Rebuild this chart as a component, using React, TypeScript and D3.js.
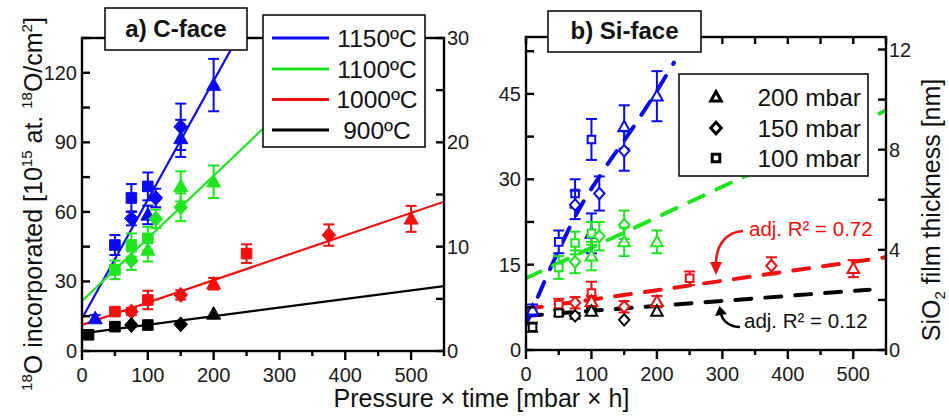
import React from 'react';
import * as d3 from 'd3';

const FONT = '"Liberation Sans", Arial, Helvetica, sans-serif';

type M = 'sq' | 'dia' | 'tri';
type Pt = [number, number, number, M]; // pressure×time, value, error, marker

const temperatures = ['1150ºC', '1100ºC', '1000ºC', '900ºC'];
const tempColors = ['#0a0af2', '#1ee61e', '#f01010', '#000000'];
const pressureLabels = ['200 mbar', '150 mbar', '100 mbar'];
const pressureMarkers: M[] = ['tri', 'dia', 'sq'];

const xTickLabels = [0, 100, 200, 300, 400, 500];
const xMinorTicks = [50, 150, 250, 350, 450, 550];
const cLeftTicks = [0, 30, 60, 90, 120];
const cLeftMinor = [15, 45, 75, 105, 135];
const cRightTicks = [0, 10, 20, 30];
const cRightMinor = [5, 15, 25];
const siLeftTicks = [0, 15, 30, 45];
const siLeftMinor = [7.5, 22.5, 37.5, 52.5];
const siRightTicks = [0, 4, 8, 12];
const siRightMinor = [2, 6, 10];

// a) C-face, 18O incorporated
const c1150: Pt[] = [
  [20, 14, 1.5, 'tri'], [50, 45.7, 4.3, 'sq'], [75, 66, 6, 'sq'], [75, 57.2, 3, 'dia'],
  [100, 71, 6, 'sq'], [100, 58.7, 4, 'tri'], [112, 66, 4, 'dia'], [150, 96.7, 10, 'dia'],
  [150, 91.7, 8, 'tri'], [200, 114.7, 11.3, 'tri'],
];
const c1100: Pt[] = [
  [50, 35, 4, 'sq'], [75, 45.7, 5, 'sq'], [75, 39, 4, 'dia'], [100, 48.6, 5, 'sq'],
  [100, 43.6, 5, 'tri'], [112, 57, 4, 'dia'], [150, 71, 6.5, 'tri'], [150, 62, 6, 'dia'],
  [200, 73, 7, 'tri'],
];
const c1000: Pt[] = [
  [50, 17, 1.5, 'sq'], [75, 17, 1.5, 'dia'], [100, 22, 4, 'sq'], [150, 24.2, 2, 'dia'],
  [200, 29, 2.5, 'tri'], [250, 42, 4, 'sq'], [375, 50, 4.6, 'dia'], [500, 57, 5.6, 'tri'],
];
const c900: Pt[] = [
  [10, 7, 0, 'sq'], [50, 10.5, 0, 'sq'], [75, 11.2, 0, 'dia'], [100, 11.2, 0, 'sq'],
  [150, 11.5, 0, 'dia'], [200, 16, 0, 'tri'],
];
const cFit1150: [number, number][] = [[0, 14], [236, 135]];
const cFit1100: [number, number][] = [[0, 21.6], [420, 135]];
const cFit1000: [number, number][] = [[0, 11.2], [550, 64.4]];
const cFit900: [number, number][] = [[0, 7.6], [550, 28]];

// b) Si-face
const s1150: Pt[] = [
  [10, 7, 1, 'tri'], [50, 19, 2, 'sq'], [75, 27.5, 2.5, 'sq'], [75, 25.5, 2.5, 'dia'],
  [100, 37, 3.6, 'sq'], [100, 20.5, 3.5, 'tri'], [112, 27.5, 3, 'dia'], [150, 39.2, 3.8, 'tri'],
  [150, 35, 3.5, 'dia'], [200, 44.6, 4.4, 'tri'],
];
const s1100: Pt[] = [
  [50, 14.5, 2, 'sq'], [75, 18.8, 2, 'sq'], [75, 15.5, 2, 'dia'], [100, 20.5, 2, 'sq'],
  [100, 16.5, 2.5, 'tri'], [112, 20, 2.5, 'dia'], [150, 22, 2.5, 'dia'], [150, 19, 2.5, 'tri'],
  [200, 19, 2, 'tri'],
];
const s1000: Pt[] = [
  [50, 8, 1, 'sq'], [75, 8.3, 1, 'dia'], [100, 10, 2, 'sq'], [100, 8.5, 1, 'tri'],
  [150, 7.6, 1, 'dia'], [200, 8.5, 1, 'tri'], [250, 12.6, 1.2, 'sq'], [375, 14.8, 1.5, 'dia'],
  [500, 14.3, 1.5, 'tri'],
];
const s900: Pt[] = [
  [10, 4, 0.8, 'sq'], [50, 6.5, 0.5, 'sq'], [75, 6, 0.5, 'dia'], [100, 6.8, 0.5, 'tri'],
  [150, 5.3, 0, 'dia'], [200, 6.8, 0, 'tri'],
];
const sFit1150: [number, number][] = [
  [0, 4.5], [15, 8.5], [30, 12.5], [50, 17.5], [80, 24.5], [118, 31.5], [160, 38.5], [197, 45], [226, 50.5],
];
const sFit1100: [number, number][] = [[0, 12.6], [550, 42.1]];
const sFit1000: [number, number][] = [[0, 7.2], [550, 16.3]];
const sFit900: [number, number][] = [[0, 6.0], [525, 10.6]];

function markerPath(m: M, cx: number, cy: number, h: number): string {
  if (m === 'sq') return `M${cx - h},${cy - h}H${cx + h}V${cy + h}H${cx - h}Z`;
  if (m === 'dia') return `M${cx},${cy - h * 1.1}L${cx + h},${cy}L${cx},${cy + h * 1.1}L${cx - h},${cy}Z`;
  return `M${cx},${cy - h * 1.05}L${cx + h},${cy + h * 0.75}L${cx - h},${cy + h * 0.75}Z`;
}

type PanelCfg = {
  id: string;
  x0: number; x1: number; yT: number; yB: number;
  yMax: number; y2Max: number;
  leftTicks: number[]; leftMinor: number[]; rightTicks: number[]; rightMinor: number[];
  series: Pt[][]; fits: [number, number][][];
  filled: boolean; topTicks: boolean;
};

function Panel({ c }: { c: PanelCfg }) {
  const x = d3.scaleLinear().domain([0, 550]).range([c.x0, c.x1]);
  const y = d3.scaleLinear().domain([0, c.yMax]).range([c.yB, c.yT]);
  const y2 = d3.scaleLinear().domain([0, c.y2Max]).range([c.yB, c.yT]);
  const lineGen = d3.line<[number, number]>().x(d => x(d[0])).y(d => y(d[1]));
  const curveGen = d3.line<[number, number]>().x(d => x(d[0])).y(d => y(d[1])).curve(d3.curveMonotoneX);
  const axisW = 2.4;
  const sizes = c.filled ? { sq: 5.3, dia: 6.8, tri: 7 } : { sq: 3.8, dia: 5.2, tri: 5.8 };
  return (
    <g>
      <defs>
        <clipPath id={`clip-${c.id}`}>
          <rect x={c.x0} y={c.yT} width={c.x1 - c.x0} height={c.yB - c.yT} />
        </clipPath>
      </defs>
      <g clipPath={`url(#clip-${c.id})`}>
        {c.fits.map((f, i) => (
          <path key={'f' + i}
            d={(f.length > 2 ? curveGen : lineGen)(f) || ''}
            fill="none" stroke={tempColors[i]}
            strokeWidth={c.filled ? 2.2 : 4}
            strokeDasharray={c.filled ? undefined : '16 14'}
            strokeLinecap={c.filled ? 'butt' : 'round'} />
        ))}
        {c.series.map((s, i) => (
          <g key={'s' + i}>
            {s.map((p, j) => {
              const cx = x(p[0]), cy = y(p[1]);
              const e = p[2];
              const col = tempColors[i];
              return (
                <g key={j}>
                  {e > 0 && (
                    <g stroke={col} strokeWidth={2} fill="none">
                      <line x1={cx} x2={cx} y1={y(p[1] - e)} y2={y(p[1] + e)} />
                      <line x1={cx - 5.5} x2={cx + 5.5} y1={y(p[1] - e)} y2={y(p[1] - e)} />
                      <line x1={cx - 5.5} x2={cx + 5.5} y1={y(p[1] + e)} y2={y(p[1] + e)} />
                    </g>
                  )}
                  <path d={markerPath(p[3], cx, cy, sizes[p[3]])}
                    fill={c.filled ? col : '#ffffff'} stroke={col}
                    strokeWidth={c.filled ? 1 : 2} />
                </g>
              );
            })}
          </g>
        ))}
      </g>
      {/* frame */}
      <g stroke="#000" strokeWidth={axisW} fill="none">
        <rect x={c.x0} y={c.yT} width={c.x1 - c.x0} height={c.yB - c.yT} />
        {xTickLabels.map(v => <line key={'xt' + v} x1={x(v)} x2={x(v)} y1={c.yB} y2={c.yB + 9} />)}
        {xMinorTicks.map(v => <line key={'xm' + v} x1={x(v)} x2={x(v)} y1={c.yB} y2={c.yB + 5} />)}
        {c.topTicks && [...xTickLabels, ...xMinorTicks].map(v => <line key={'tt' + v} x1={x(v)} x2={x(v)} y1={c.yT} y2={c.yT + 7} />)}
        {[...c.leftTicks, ...c.leftMinor].map(v => <line key={'yl' + v} x1={c.x0} x2={c.x0 + 8} y1={y(v)} y2={y(v)} />)}
        {[...c.rightTicks, ...c.rightMinor].map(v => <line key={'yr' + v} x1={c.x1 - 8} x2={c.x1} y1={y2(v)} y2={y2(v)} />)}
      </g>
      <g fontFamily={FONT} fontSize={20} fill="#1a1a1a">
        {xTickLabels.map(v => (
          <text key={'xl' + v} x={x(v)} y={c.yB + 31} textAnchor="middle">{v}</text>
        ))}
        {c.leftTicks.map(v => (
          <text key={'ll' + v} x={c.x0 - 5} y={y(v) + 7} textAnchor="end">{v}</text>
        ))}
        {c.rightTicks.map(v => (
          <text key={'rl' + v} x={c.x1 + 3} y={y2(v) + 7} textAnchor="start">{v}</text>
        ))}
      </g>
    </g>
  );
}

export default function App() {
  const left: PanelCfg = {
    id: 'c', x0: 82, x1: 444, yT: 38, yB: 351, yMax: 135, y2Max: 30,
    leftTicks: cLeftTicks, leftMinor: cLeftMinor, rightTicks: cRightTicks, rightMinor: cRightMinor,
    series: [c1150, c1100, c1000, c900], fits: [cFit1150, cFit1100, cFit1000, cFit900],
    filled: true, topTicks: false,
  };
  const right: PanelCfg = {
    id: 's', x0: 526, x1: 886, yT: 37, yB: 350, yMax: 55, y2Max: 12.5,
    leftTicks: siLeftTicks, leftMinor: siLeftMinor, rightTicks: siRightTicks, rightMinor: siRightMinor,
    series: [s1150, s1100, s1000, s900], fits: [sFit1150, sFit1100, sFit1000, sFit900],
    filled: false, topTicks: true,
  };
  const legendRows = [38, 69, 99.5, 130];
  const pRows = [97, 128, 158];
  return (
    <svg width={949} height={418} style={{ position: 'absolute', left: 0, top: 0, background: '#fff' }}
      fontFamily={FONT}>
      <rect x={0} y={0} width={949} height={418} fill="#fff" />
      <Panel c={left} />
      <Panel c={right} />

      {/* title boxes */}
      <rect x={105} y={8} width={142} height={42} fill="#fff" stroke="#000" strokeWidth={1.5} />
      <text x={176} y={37} textAnchor="middle" fontSize={24} fontWeight="bold" fill="#111">a) C-face</text>
      <rect x={548} y={11} width={153} height={41} fill="#fff" stroke="#000" strokeWidth={1.5} />
      <text x={624.5} y={38.5} textAnchor="middle" fontSize={24} fontWeight="bold" fill="#111">b) Si-face</text>

      {/* temperature legend */}
      <rect x={263} y={15} width={162} height={132} fill="#fff" stroke="#000" strokeWidth={1.5} />
      {temperatures.map((t, i) => (
        <g key={t}>
          <line x1={272} x2={329} y1={legendRows[i]} y2={legendRows[i]} stroke={tempColors[i]} strokeWidth={3} />
          <text x={377} y={legendRows[i] + 8.5} textAnchor="middle" fontSize={24.5} fill="#111">{t}</text>
        </g>
      ))}

      {/* pressure legend */}
      <rect x={679} y={74} width={189} height={102} fill="#fff" stroke="#000" strokeWidth={1.5} />
      {pressureLabels.map((p, i) => (
        <g key={p}>
          <path d={markerPath(pressureMarkers[i], 716, pRows[i], pressureMarkers[i] === 'sq' ? 3.8 : 5.2)}
            fill="#fff" stroke="#000" strokeWidth={3} strokeLinejoin="miter" />
          <text x={861} y={pRows[i] + 9} textAnchor="end" fontSize={24.5} fill="#111">{p}</text>
        </g>
      ))}

      {/* annotations */}
      <text x={749} y={236} fontSize={20.5} fill="#f01010">adj. R² = 0.72</text>
      <path d="M743,231 C727,232 716,244 716,264" fill="none" stroke="#f01010" strokeWidth={2.5} />
      <path d="M710,262 L716,275 L722,262 Z" fill="#f01010" />
      <text x={744} y={328} fontSize={20.5} fill="#111">adj. R² = 0.12</text>
      <path d="M740,327 C730,327 722,321 721,313" fill="none" stroke="#000" strokeWidth={2.5} />
      <path d="M715,316 L719.5,306 L727,314 Z" fill="#000" />

      {/* axis titles */}
      <text x={481.5} y={407} textAnchor="middle" fontSize={25} fill="#111">Pressure × time [mbar × h]</text>
      <text transform="translate(42,204) rotate(-90)" textAnchor="middle" fontSize={25} fill="#111">
        <tspan fontSize={15} dy={-10}>18</tspan>
        <tspan dy={10}>O incorporated [10</tspan>
        <tspan fontSize={15} dy={-10}>15</tspan>
        <tspan dy={10}> at. </tspan>
        <tspan fontSize={15} dy={-10}>18</tspan>
        <tspan dy={10}>O/cm</tspan>
        <tspan fontSize={15} dy={-10}>2</tspan>
        <tspan dy={10}>]</tspan>
      </text>
      <text transform="translate(940,210) rotate(-90)" textAnchor="middle" fontSize={25} fill="#111">
        <tspan>SiO</tspan>
        <tspan fontSize={15} dy={5}>2</tspan>
        <tspan dy={-5}> film thickness [nm]</tspan>
      </text>
    </svg>
  );
}
